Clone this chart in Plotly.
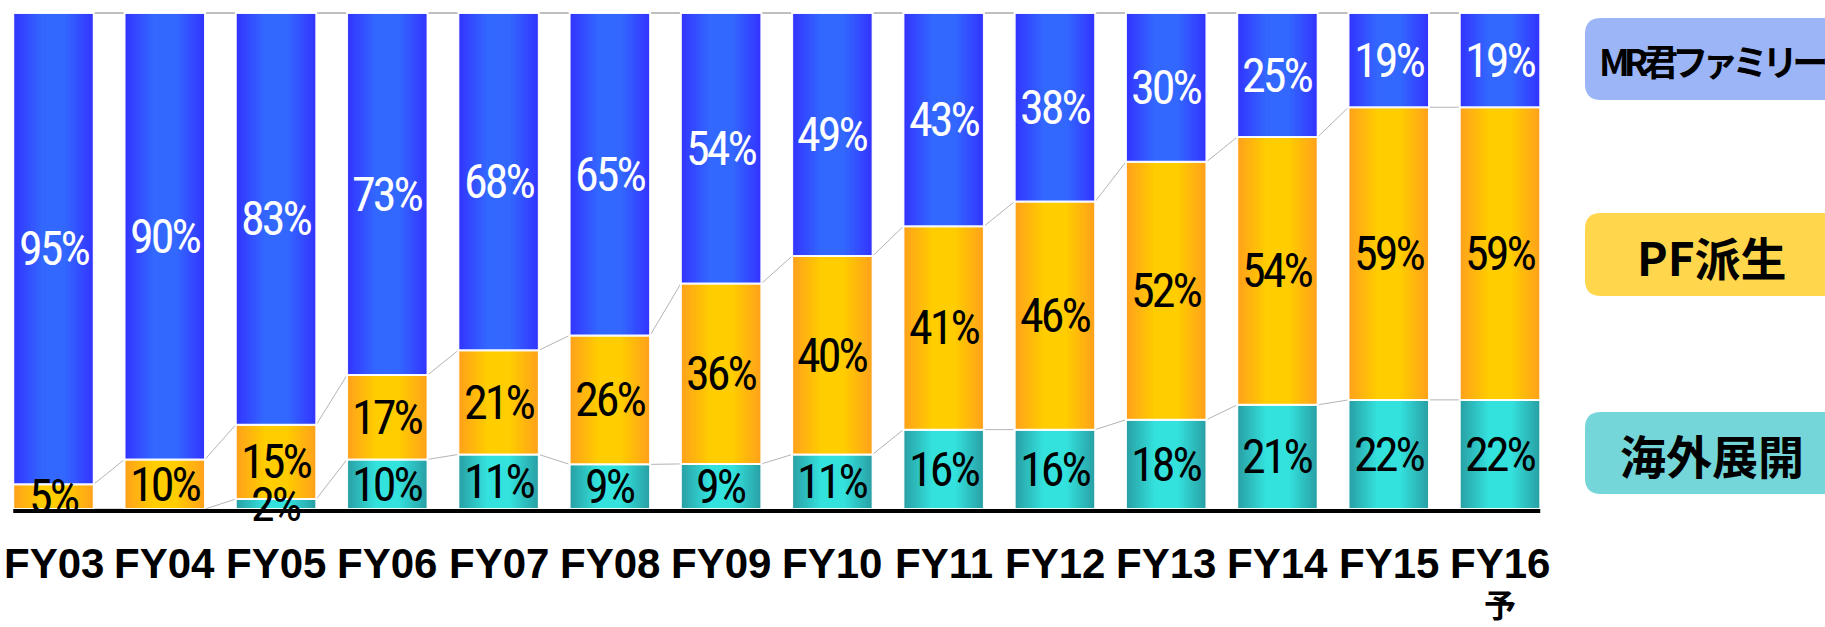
import plotly.graph_objects as go

# ---- data ---------------------------------------------------------------
categories = ["FY03", "FY04", "FY05", "FY06", "FY07", "FY08", "FY09",
              "FY10", "FY11", "FY12", "FY13", "FY14", "FY15", "FY16"]
category_notes = ["", "", "", "", "", "", "", "", "", "", "", "", "", "予"]

series_names = ["海外展開", "PF派生", "MR君ファミリー"]
kaigai = [0, 0, 2, 10, 11, 9, 9, 11, 16, 16, 18, 21, 22, 22]
pf = [5, 10, 15, 17, 21, 26, 36, 40, 41, 46, 52, 54, 59, 59]
mr = [95, 90, 83, 73, 68, 65, 54, 49, 43, 38, 30, 25, 19, 19]

# ---- styling ------------------------------------------------------------
W_PX, H_PX = 1825, 627
PX_PER_CAT = 111.27
PX_PER_PCT = 4.96
ZERO_PX = 509
X_MIN = -53.5 / PX_PER_CAT
X_MAX = X_MIN + W_PX / PX_PER_CAT
Y_MAX = 100 + 13 / PX_PER_PCT
Y_MIN = -(H_PX - ZERO_PX) / PX_PER_PCT
BAR_W = 0.7235

# edge colour -> centre colour of the cylinder-like shading
shades = {
    "海外展開": ((40, 158, 163), (52, 226, 221)),
    "PF派生": ((255, 160, 28), (255, 205, 0)),
    "MR君ファミリー": ((51, 51, 255), (51, 104, 255)),
}
label_colors = {"海外展開": "black", "PF派生": "black", "MR君ファミリー": "white"}
legend_fill = {"海外展開": "#74D6D8", "PF派生": "#FFD64C", "MR君ファミリー": "#9BB5F6"}

NUM_FONT = "Liberation Sans Narrow, Roboto Condensed, Arial Narrow, sans-serif"
CAT_FONT = "Liberation Sans, Arial, sans-serif"
JP_FONT = "Noto Sans CJK JP, sans-serif"


def mix(c0, c1, t):
    return "rgb(%d,%d,%d)" % tuple(round(a + (b - a) * t) for a, b in zip(c0, c1))


# normalise each year to 100 %
values = [kaigai, pf, mr]
totals = [sum(v[i] for v in values) for i in range(len(categories))]
shares = [[v[i] / totals[i] * 100 for i in range(len(categories))] for v in values]
bases = []
run = [0.0] * len(categories)
for sh in shares:
    bases.append(run[:])
    run = [r + s for r, s in zip(run, sh)]

x_idx = list(range(len(categories)))
fig = go.Figure()

N_LAYERS = 16
for name, sh, bs in zip(series_names, shares, bases):
    edge, centre = shades[name]
    heights = [s if s > 0 else None for s in sh]
    for k in range(N_LAYERS):
        d = (k + 0.5) / N_LAYERS
        t = min(1.0, d / 0.72)
        fig.add_trace(go.Bar(
            x=x_idx, y=heights, base=bs, width=BAR_W * (1 - k / N_LAYERS),
            marker=dict(color=mix(edge, centre, t), line=dict(width=0)),
            showlegend=False, hoverinfo="skip",
        ))
    # white outline separating the stacked segments
    fig.add_trace(go.Bar(
        x=x_idx, y=heights, base=bs, width=BAR_W,
        marker=dict(color="rgba(0,0,0,0)", line=dict(color="rgba(255,255,255,0.95)", width=2)),
        showlegend=False, hoverinfo="skip",
    ))

shapes = []
# connector lines between neighbouring bars at every segment boundary
levels = [[b + s for b, s in zip(bs, sh)] for bs, sh in zip(bases, shares)]
for lv_i, lv in enumerate(levels):
    for i in range(len(categories) - 1):
        shapes.append(dict(
            type="line", xref="x", yref="y", layer="below",
            x0=i + BAR_W / 2, y0=lv[i], x1=i + 1 - BAR_W / 2, y1=lv[i + 1],
            line=dict(color="#9C9C9C" if lv_i == 2 else "#B4B4B4", width=1.3 if lv_i == 2 else 1),
        ))

# baseline
shapes.append(dict(
    type="line", xref="x", yref="y",
    x0=-BAR_W / 2, x1=len(categories) - 1 + BAR_W / 2, y0=-0.4, y1=-0.4,
    line=dict(color="black", width=4),
))

annotations = []
# segment value labels
for name, vals, sh, bs in zip(series_names, values, shares, bases):
    for i, v in enumerate(vals):
        if v <= 0:
            continue
        annotations.append(dict(
            x=i, y=bs[i] + sh[i] / 2, xref="x", yref="y", showarrow=False,
            text=f"<span style=\"letter-spacing:-3px\">{v}%</span>",
            font=dict(family=NUM_FONT, size=48, color=label_colors[name]),
            xanchor="center", yanchor="middle",
        ))

# category labels
CAT_Y = (ZERO_PX - 563) / PX_PER_PCT
NOTE_Y = (ZERO_PX - 603) / PX_PER_PCT
for i, (c, note) in enumerate(zip(categories, category_notes)):
    annotations.append(dict(
        x=i, y=CAT_Y, xref="x", yref="y", showarrow=False,
        text=f"<b>{c}</b>", font=dict(family=CAT_FONT, size=42, color="black"),
        xanchor="center", yanchor="middle",
    ))
    if note:
        annotations.append(dict(
            x=i, y=NOTE_Y, xref="x", yref="y", showarrow=False,
            text=f"<b>{note}</b>", font=dict(family=JP_FONT, size=32, color="black"),
            xanchor="center", yanchor="middle",
        ))


# legend boxes on the right (pixel geometry converted to paper units)
def px_x(p):
    return p / W_PX


def px_y(p):
    return 1 - p / H_PX


def rounded_box(x0, y0, x1, y1, r):
    return (f"M {px_x(x0 + r)} {px_y(y0)} L {px_x(x1)} {px_y(y0)} "
            f"L {px_x(x1)} {px_y(y1)} L {px_x(x0 + r)} {px_y(y1)} "
            f"Q {px_x(x0)} {px_y(y1)} {px_x(x0)} {px_y(y1 - r)} "
            f"L {px_x(x0)} {px_y(y0 + r)} "
            f"Q {px_x(x0)} {px_y(y0)} {px_x(x0 + r)} {px_y(y0)} Z")


legend_rows = [("MR君ファミリー", 18, 100), ("PF派生", 213, 296), ("海外展開", 412, 494)]
for name, top, bottom in legend_rows:
    shapes.append(dict(
        type="path", xref="paper", yref="paper", path=rounded_box(1585, top, 1840, bottom, 16),
        fillcolor=legend_fill[name], line=dict(width=0), layer="below",
    ))
    if name == "MR君ファミリー":
        txt = f"<span style=\"letter-spacing:-6px\"><b>{name}</b></span>"
        size = 36
    else:
        txt = f"<b>{name}</b>"
        size = 46
    annotations.append(dict(
        x=px_x(1712), y=px_y((top + bottom) / 2 + 1), xref="paper", yref="paper", showarrow=False,
        text=txt, font=dict(family=JP_FONT, size=size, color="black"),
        xanchor="center", yanchor="middle",
    ))

fig.update_layout(
    width=W_PX, height=H_PX,
    margin=dict(l=0, r=0, t=0, b=0),
    barmode="overlay",
    plot_bgcolor="white", paper_bgcolor="white",
    xaxis=dict(range=[X_MIN, X_MAX], visible=False, fixedrange=True),
    yaxis=dict(range=[Y_MIN, Y_MAX], visible=False, fixedrange=True),
    shapes=shapes, annotations=annotations,
    showlegend=False, hovermode=False,
)

fig.write_html("out.html", config={"displayModeBar": False})
